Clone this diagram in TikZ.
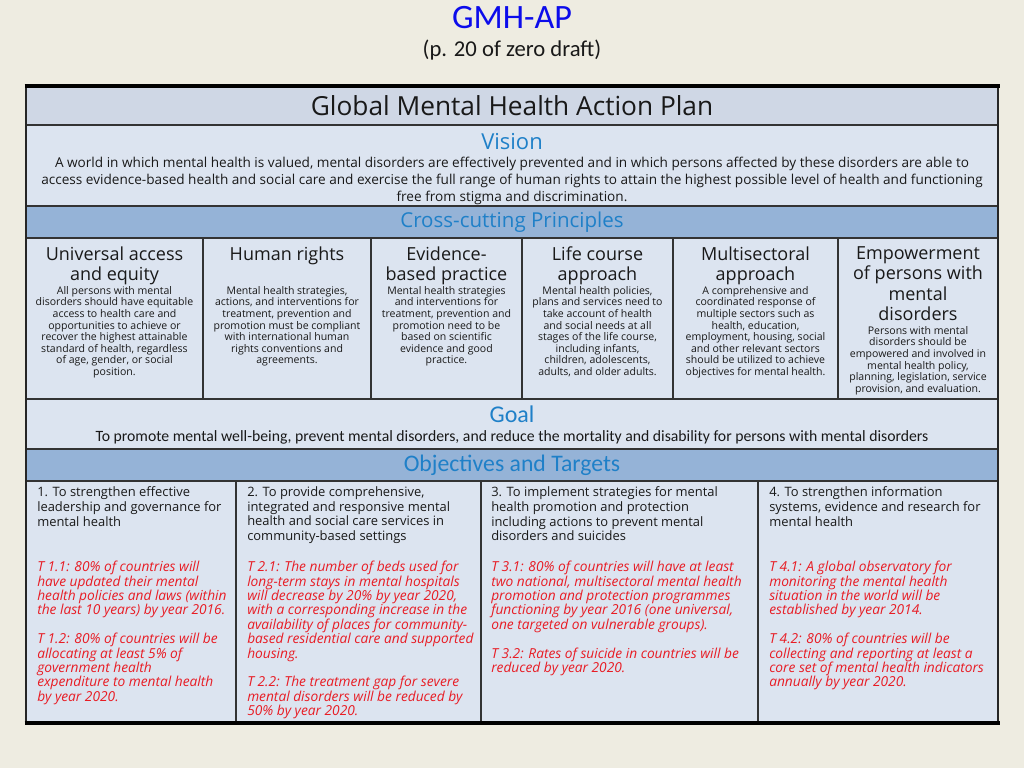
\documentclass[tikz,border=0pt]{standalone}
\usepackage{fontspec}
\setmainfont{Open Sans}
\newfontfamily\calibri{Carlito}
\definecolor{slidebg}{RGB}{238,236,225}
\definecolor{titlefill}{RGB}{207,215,229}
\definecolor{cellfill}{RGB}{220,228,240}
\definecolor{bandfill}{RGB}{149,179,215}
\definecolor{headblue}{RGB}{31,128,200}
\definecolor{gmhblue}{RGB}{12,12,235}
\definecolor{bodytext}{RGB}{25,25,25}
\definecolor{targetred}{RGB}{232,28,36}
\tikzset{
  rowline/.style={draw=black!80, line width=0.9pt},
  section/.style={inner sep=0pt, font=\fontsize{16}{16}\selectfont, text=headblue},
  princhead/.style={anchor=north, align=center, inner sep=0pt,
    font=\fontsize{13.5}{15.2}\selectfont, text=bodytext},
  princbody/.style={anchor=north, align=center, inner sep=0pt,
    font=\fontsize{7.9}{8.7}\selectfont, text=bodytext},
  objective/.style={anchor=north west, align=left, inner sep=0pt,
    font=\fontsize{9.7}{11}\selectfont, text=bodytext},
  target/.style={objective, font=\fontsize{10.3}{10.8}\selectfont\itshape, text=targetred},
}

\begin{document}
\begin{tikzpicture}[x=0.75pt,y=-0.75pt]
\useasboundingbox[fill=slidebg] (0,0) rectangle (1024,768);

\node[font=\calibri\fontsize{25.6}{26}\selectfont, text=gmhblue] at (512,18) (gmh) {GMH-AP};
\node[font=\calibri\fontsize{17}{18}\selectfont, text=bodytext] at (512,50) (draft) {(p. 20 of zero draft)};

% rows
\filldraw[rowline, fill=titlefill] (26,86) rectangle (998,125);
\filldraw[rowline, fill=cellfill] (26,125) rectangle (998,206);
\filldraw[rowline, fill=bandfill] (26,206) rectangle (998,238);
\filldraw[rowline, fill=cellfill] (26,238) rectangle (998,399);
\filldraw[rowline, fill=cellfill] (26,399) rectangle (998,449);
\filldraw[rowline, fill=bandfill] (26,449) rectangle (998,481);
\filldraw[rowline, fill=cellfill] (26,481) rectangle (998,723);
\foreach \x in {203,371,522,673,838} \draw[rowline] (\x,238) -- (\x,399);
\foreach \x in {236,481,758} \draw[rowline] (\x,481) -- (\x,723);
% frame
\draw[line width=1.3pt, black!85] (26,86) -- (26,723) (998,86) -- (998,723);
\draw[line width=2.3pt] (24.5,86) -- (999.5,86);
\draw[line width=2.3pt] (24.5,723) -- (999.5,723);

\node[inner sep=0pt, font=\fontsize{19.7}{20}\selectfont, text=bodytext] at (512,106) (plan) {Global Mental Health Action Plan};

\node[section, font=\fontsize{16.5}{17}\selectfont] at (512,141.5) (vision) {Vision};
\node[anchor=north, align=center, inner sep=0pt, font=\fontsize{10.2}{12.75}\selectfont, text=bodytext] at (512,156.5) (visiontext)
  {A world in which mental health is valued, mental disorders are effectively prevented and in which persons affected by these disorders are able to\\
   access evidence-based health and social care and exercise the full range of human rights to attain the highest possible level of health and functioning\\
   free from stigma and discrimination.};

\node[section, font=\fontsize{15.4}{16}\selectfont] at (512,222) (principles) {Cross-cutting Principles};

\node[princhead] at (114.5,246.5) (access) {Universal access\\and equity};
\node[princbody] at (114.5,286) (accesstext) {All persons with mental\\disorders should have equitable\\access to health care and\\opportunities to achieve or\\recover the highest attainable\\standard of health, regardless\\of age, gender, or social\\position.};
\node[princhead] at (287,246.5) (rights) {Human rights};
\node[princbody] at (287,286) (rightstext) {Mental health strategies,\\actions, and interventions for\\treatment, prevention and\\promotion must be compliant\\with international human\\rights conventions and\\agreements.};
\node[princhead] at (446.5,246.5) (evidence) {Evidence-\\based practice};
\node[princbody] at (446.5,286) (evidencetext) {Mental health strategies\\and interventions for\\treatment, prevention and\\promotion need to be\\based on scientific\\evidence and good\\practice.};
\node[princhead] at (597.5,246.5) (lifecourse) {Life course\\approach};
\node[princbody] at (597.5,286) (lifecoursetext) {Mental health policies,\\plans and services need to\\take account of health\\and social needs at all\\stages of the life course,\\including infants,\\children, adolescents,\\adults, and older adults.};
\node[princhead] at (755.5,246.5) (multisector) {Multisectoral\\approach};
\node[princbody] at (755.5,286) (multisectortext) {A comprehensive and\\coordinated response of\\multiple sectors such as\\health, education,\\employment, housing, social\\and other relevant sectors\\should be utilized to achieve\\objectives for mental health.};
\node[princhead] at (918,246.5) (empower) {Empowerment\\of persons with\\mental\\disorders};
\node[princbody] at (918,326) (empowertext) {Persons with mental\\disorders should be\\empowered and involved in\\mental health policy,\\planning, legislation, service\\provision, and evaluation.};

\node[section, font=\calibri\fontsize{18}{18}\selectfont] at (512,414.5) (goal) {Goal};
\node[inner sep=0pt, font=\calibri\fontsize{11.8}{12}\selectfont, text=bodytext] at (512,437) (goaltext)
  {To promote mental well-being, prevent mental disorders, and reduce the mortality and disability for persons with mental disorders};

\node[section, font=\calibri\fontsize{17.8}{18}\selectfont] at (512,465) (objectives) {Objectives and Targets};

\node[objective] at (37,486.5) (obj1) {1. To strengthen effective\\leadership and governance for\\mental health};
\node[target] at (37,561) (t1) {T 1.1: 80\% of countries will\\have updated their mental\\health policies and laws (within\\the last 10 years) by year 2016.\\[10.8pt]T 1.2: 80\% of countries will be\\allocating at least 5\% of\\government health\\expenditure to mental health\\by year 2020.};
\node[objective] at (247,486.5) (obj2) {2. To provide comprehensive,\\integrated and responsive mental\\health and social care services in\\community-based settings};
\node[target] at (247,561) (t2) {T 2.1: The number of beds used for\\long-term stays in mental hospitals\\will decrease by 20\% by year 2020,\\with a corresponding increase in the\\availability of places for community-\\based residential care and supported\\housing.\\[10.8pt]T 2.2: The treatment gap for severe\\mental disorders will be reduced by\\50\% by year 2020.};
\node[objective] at (491,486.5) (obj3) {3. To implement strategies for mental\\health promotion and protection\\including actions to prevent mental\\disorders and suicides};
\node[target] at (491,561) (t3) {T 3.1: 80\% of countries will have at least\\two national, multisectoral mental health\\promotion and protection programmes\\functioning by year 2016 (one universal,\\one targeted on vulnerable groups).\\[10.8pt]T 3.2: Rates of suicide in countries will be\\reduced by year 2020.};
\node[objective] at (769,486.5) (obj4) {4. To strengthen information\\systems, evidence and research for\\mental health};
\node[target] at (769,561) (t4) {T 4.1: A global observatory for\\monitoring the mental health\\situation in the world will be\\established by year 2014.\\[10.8pt]T 4.2: 80\% of countries will be\\collecting and reporting at least a\\core set of mental health indicators\\annually by year 2020.};
\end{tikzpicture}
\end{document}
